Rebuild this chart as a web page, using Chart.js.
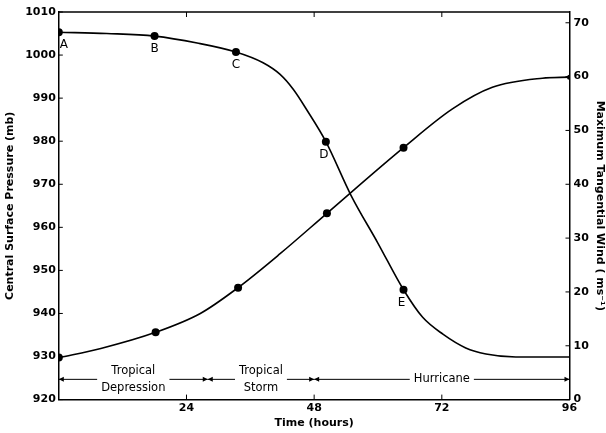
<!DOCTYPE html>
<html>
<head>
<meta charset="utf-8">
<script src="https://cdn.jsdelivr.net/npm/chart.js@4"></script>
<style>
  html, body { margin: 0; padding: 0; background: #fff; }
</style>
</head>
<body>
<canvas id="stormChart" width="606" height="433"></canvas>
<script>
// central surface pressure (mb), left axis; letters mark the labelled stages
const pressureHours = [0, 9, 18, 26, 33.3, 38.4, 41.6, 44.1, 46.6, 50.2, 54.9, 60, 64.8, 68.4, 72.2, 76.5, 80.3, 85.9, 96];
const pressureValues = [1005.3, 1005.0, 1004.4, 1002.8, 1000.7, 998.2, 995.5, 992.0, 987.3, 979.9, 967.5, 956.3, 945.5, 939.1, 935.2, 932.0, 930.6, 929.9, 929.9];
const pressureLetters = ['A', '', 'B', '', 'C', '', '', '', '', 'D', '', '', 'E', '', '', '', '', '', ''];

// maximum tangential wind (m/s), right axis
const windHours = [0, 7.9, 18.2, 26.6, 33.7, 41.6, 50.4, 64.8, 74, 81.5, 90.9, 96];
const windValues = [7.8, 9.5, 12.5, 16.0, 20.8, 27.1, 34.6, 46.8, 54.0, 58.0, 59.7, 59.9];
const windMarked = [1, 0, 1, 0, 1, 0, 1, 1, 0, 0, 0, 1];

// axis tick values
const timeTicks = [24, 48, 72, 96];
const pressureTicks = [920, 930, 940, 950, 960, 970, 980, 990, 1000, 1010];
const windTicks = [0, 10, 20, 30, 40, 50, 60, 70];

// storm stages along the time axis
const stageStart = [0, 28, 48];
const stageEnd = [28, 48, 96];
const stageNames = [['Tropical', 'Depression'], ['Tropical', 'Storm'], ['Hurricane']];

const tickFont = { family: 'DejaVu Sans', size: 11, weight: 'bold' };
const titleFont = { family: 'DejaVu Sans', size: 11, weight: 'bold' };

function toPoints(xs, ys) {
    return xs.map((h, i) => ({ x: h, y: ys[i] }));
}

function setTicks(values) {
    return scale => { scale.ticks = values.map(v => ({ value: v })); };
}

// frame, inward ticks, stage letters and the stage band
const annotations = {
    id: 'annotations',
    afterDraw(chart) {
        const { ctx, chartArea: a, scales: { x, y, y1 } } = chart;
        ctx.save();
        ctx.strokeStyle = '#000';
        ctx.fillStyle = '#000';

        ctx.lineWidth = 1.5;
        ctx.beginPath();
        ctx.moveTo(a.left, a.top);
        ctx.lineTo(a.right, a.top);
        ctx.stroke();

        ctx.lineWidth = 1;
        ctx.beginPath();
        x.ticks.forEach(t => {
            const px = x.getPixelForValue(t.value);
            ctx.moveTo(px, a.bottom); ctx.lineTo(px, a.bottom - 5);
            ctx.moveTo(px, a.top); ctx.lineTo(px, a.top + 5);
        });
        y.ticks.forEach(t => {
            const py = y.getPixelForValue(t.value);
            ctx.moveTo(a.left, py); ctx.lineTo(a.left + 4, py);
        });
        y1.ticks.forEach(t => {
            const py = y1.getPixelForValue(t.value);
            ctx.moveTo(a.right, py); ctx.lineTo(a.right - 4, py);
        });
        ctx.stroke();

        // letters under the pressure points
        ctx.font = '12px "DejaVu Sans"';
        ctx.textAlign = 'center';
        ctx.textBaseline = 'middle';
        const meta = chart.getDatasetMeta(0);
        pressureLetters.forEach((letter, i) => {
            if (!letter) return;
            const p = meta.data[i];
            const dx = letter === 'A' ? 5 : (letter === 'D' || letter === 'E' ? -2 : 0);
            ctx.fillText(letter, p.x + dx, p.y + 13);
        });

        // stage band
        const bandY = y.getPixelForValue(924.7);
        ctx.font = '11.5px "DejaVu Sans"';
        stageNames.forEach((lines, i) => {
            const x0 = x.getPixelForValue(stageStart[i]);
            const x1 = x.getPixelForValue(stageEnd[i]);
            const mid = (x0 + x1) / 2;
            const w = Math.max(...lines.map(s => ctx.measureText(s).width)) + 8;
            ctx.beginPath();
            ctx.moveTo(x0, bandY); ctx.lineTo(mid - w / 2, bandY);
            ctx.moveTo(mid + w / 2, bandY); ctx.lineTo(x1, bandY);
            ctx.stroke();
            // arrowheads at both ends
            ctx.beginPath();
            ctx.moveTo(x0, bandY); ctx.lineTo(x0 + 5, bandY - 2.5); ctx.lineTo(x0 + 5, bandY + 2.5); ctx.closePath();
            ctx.moveTo(x1, bandY); ctx.lineTo(x1 - 5, bandY - 2.5); ctx.lineTo(x1 - 5, bandY + 2.5); ctx.closePath();
            ctx.fill();
            if (lines.length === 2) {
                ctx.fillText(lines[0], mid, bandY - 8);
                ctx.fillText(lines[1], mid, bandY + 9);
            } else {
                ctx.fillText(lines[0], mid, bandY);
            }
        });
        ctx.restore();
    }
};

const noGrid = { display: false, drawTicks: false };

new Chart(document.getElementById('stormChart').getContext('2d'), {
    type: 'line',
    data: {
        datasets: [{
            label: 'Central Surface Pressure',
            data: toPoints(pressureHours, pressureValues),
            yAxisID: 'y',
            borderColor: '#000',
            borderWidth: 1.6,
            pointRadius: pressureLetters.map(l => l ? 4 : 0),
            pointBackgroundColor: '#000',
            pointBorderWidth: 0,
            cubicInterpolationMode: 'monotone',
            fill: false
        }, {
            label: 'Maximum Tangential Wind',
            data: toPoints(windHours, windValues),
            yAxisID: 'y1',
            borderColor: '#000',
            borderWidth: 1.6,
            pointRadius: windMarked.map((m, i) => m ? (i === windMarked.length - 1 ? 2.5 : 4) : 0),
            pointBackgroundColor: '#000',
            pointBorderWidth: 0,
            cubicInterpolationMode: 'monotone',
            fill: false
        }]
    },
    options: {
        responsive: false,
        animation: false,
        layout: { padding: { left: 4, right: 0, top: 12, bottom: 3 } },
        plugins: {
            legend: { display: false },
            tooltip: { enabled: false }
        },
        scales: {
            x: {
                type: 'linear',
                min: 0,
                max: 96,
                afterBuildTicks: setTicks(timeTicks),
                ticks: { color: '#000', font: tickFont, padding: 2, callback: v => String(v) },
                grid: noGrid,
                border: { color: '#000', width: 1.5 },
                title: { display: true, text: 'Time (hours)', color: '#000', font: titleFont, padding: { top: 0, bottom: 0 } }
            },
            y: {
                position: 'left',
                min: 920,
                max: 1010,
                afterBuildTicks: setTicks(pressureTicks),
                ticks: { color: '#000', font: tickFont, padding: 3, callback: v => String(v) },
                grid: noGrid,
                border: { color: '#000', width: 1.5 },
                title: { display: true, text: 'Central Surface Pressure (mb)', color: '#000', font: titleFont, padding: { top: 0, bottom: 5 } }
            },
            y1: {
                position: 'right',
                min: 0,
                max: 72,
                afterBuildTicks: setTicks(windTicks),
                ticks: { color: '#000', font: tickFont, padding: 4, callback: v => String(v) },
                grid: noGrid,
                border: { color: '#000', width: 1.5 },
                title: { display: true, text: 'Maximum Tangential Wind ( ms\u207B\u00B9)', color: '#000', font: titleFont, padding: { top: 0, bottom: 0 } }
            }
        }
    },
    plugins: [annotations]
});
</script>
</body>
</html>
